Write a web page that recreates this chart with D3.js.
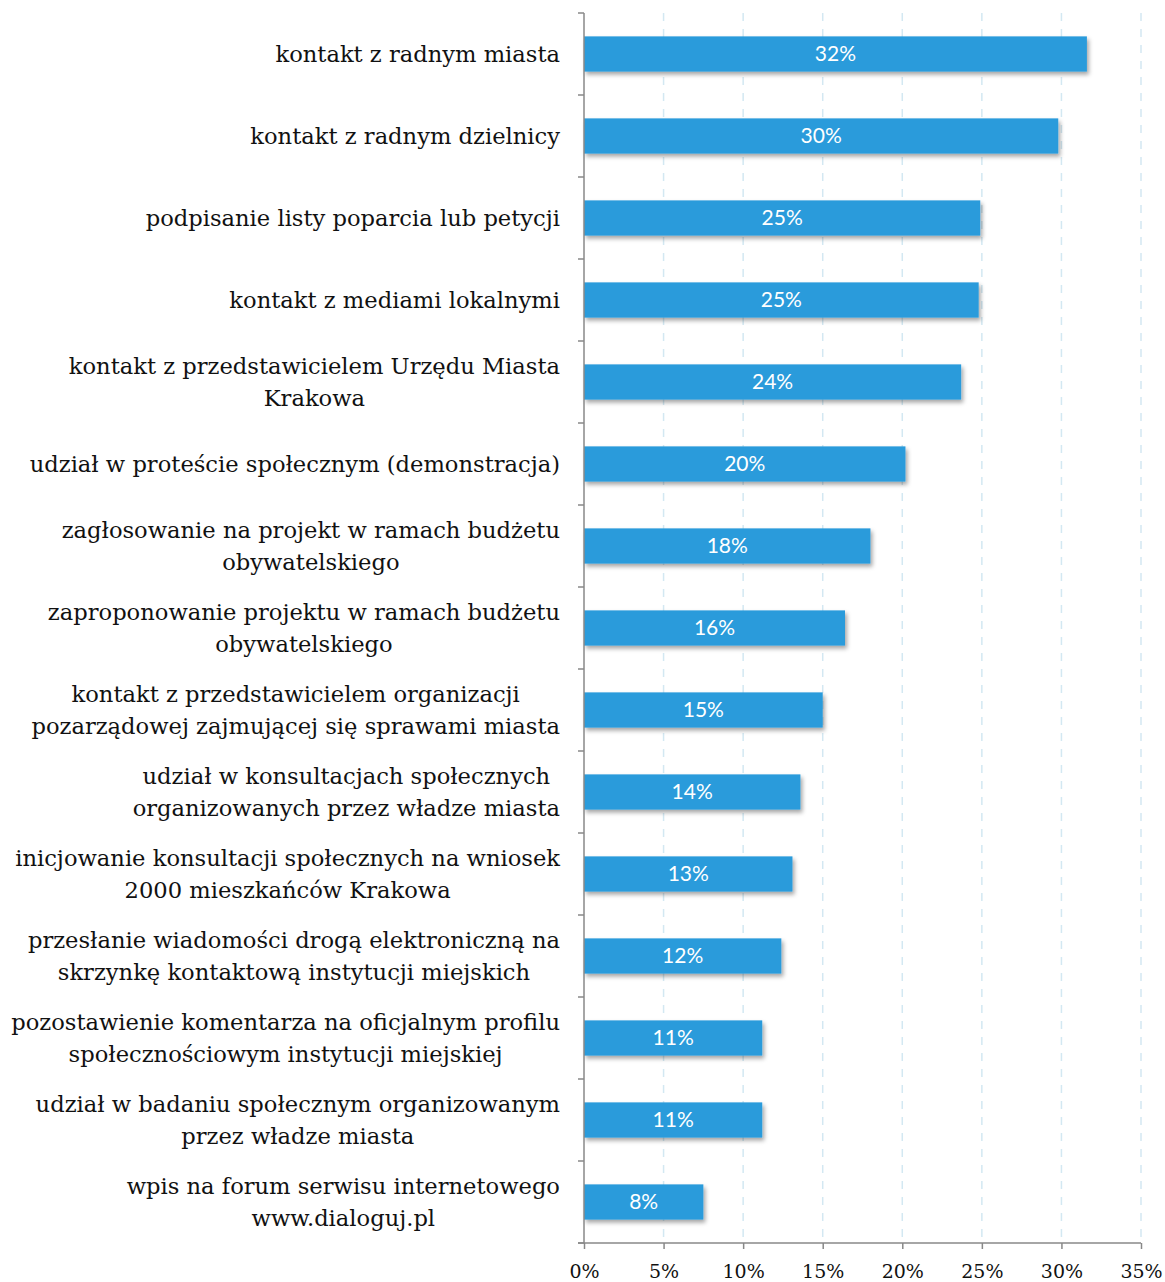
<!DOCTYPE html>
<html><head><meta charset="utf-8">
<script src="https://cdn.jsdelivr.net/npm/d3@7"></script>
<style>body{margin:0;background:#fff}svg{display:block}</style>
</head><body>
<svg id="chart" width="1165" height="1282"></svg>
<script>
const categories = [
  ["kontakt z radnym miasta"],
  ["kontakt z radnym dzielnicy"],
  ["podpisanie listy poparcia lub petycji"],
  ["kontakt z mediami lokalnymi"],
  ["kontakt z przedstawicielem Urzędu Miasta", "Krakowa"],
  ["udział w proteście społecznym (demonstracja)"],
  ["zagłosowanie na projekt w ramach budżetu", "obywatelskiego"],
  ["zaproponowanie projektu w ramach budżetu", "obywatelskiego"],
  ["kontakt z przedstawicielem organizacji", "pozarządowej zajmującej się sprawami miasta"],
  ["udział w konsultacjach społecznych", "organizowanych przez władze miasta"],
  ["inicjowanie konsultacji społecznych na wniosek", "2000 mieszkańców Krakowa"],
  ["przesłanie wiadomości drogą elektroniczną na", "skrzynkę kontaktową instytucji miejskich"],
  ["pozostawienie komentarza na oficjalnym profilu", "społecznościowym instytucji miejskiej"],
  ["udział w badaniu społecznym organizowanym", "przez władze miasta"],
  ["wpis na forum serwisu internetowego", "www.dialoguj.pl"]
];
const values = [31.6, 29.8, 24.9, 24.8, 23.7, 20.2, 18.0, 16.4, 15.0, 13.6, 13.1, 12.4, 11.2, 11.2, 7.5];
const valueLabels = ["32%", "30%", "25%", "25%", "24%", "20%", "18%", "16%", "15%", "14%", "13%", "12%", "11%", "11%", "8%"];
const xTicks = [0, 5, 10, 15, 20, 25, 30, 35];

const svg = d3.select("#chart");
const x = d3.scaleLinear().domain([0, 35]).range([584, 1141]);
const y = d3.scaleBand().domain(d3.range(categories.length)).range([13, 1243]).paddingInner(0.57).paddingOuter(0.285);
const band = d3.scaleBand().domain(d3.range(categories.length)).range([13, 1243]);

const defs = svg.append("defs");
const f = defs.append("filter").attr("id", "sh").attr("x", "-5%").attr("y", "-30%").attr("width", "115%").attr("height", "180%");
f.append("feDropShadow").attr("dx", 2).attr("dy", 3).attr("stdDeviation", 2).attr("flood-color", "#000").attr("flood-opacity", 0.35);

// gridlines
svg.append("g").selectAll("line").data(xTicks.filter(d => d > 0)).join("line")
  .attr("x1", d => x(d)).attr("x2", d => x(d)).attr("y1", 13).attr("y2", 1243)
  .attr("stroke", "#d3e8f2").attr("stroke-width", 1.5).attr("stroke-dasharray", "8,8");

// bars
svg.append("g").selectAll("rect").data(values).join("rect")
  .attr("x", x(0)).attr("y", (d, i) => y(i)).attr("width", d => x(d) - x(0)).attr("height", y.bandwidth())
  .attr("fill", "#2a9bdb").attr("filter", "url(#sh)");

// value labels
svg.append("g").selectAll("text").data(values).join("text")
  .attr("x", d => (x(0) + x(d)) / 2).attr("y", (d, i) => y(i) + y.bandwidth() / 2)
  .attr("dy", "0.35em").attr("text-anchor", "middle")
  .attr("font-family", "Lato, 'Open Sans', sans-serif").attr("font-size", 21).attr("fill", "#fff")
  .text((d, i) => valueLabels[i]);

// y axis
const yAxis = d3.axisLeft(band).tickSize(6).tickFormat("");
const yg = svg.append("g").attr("transform", `translate(${x(0)},0)`).call(yAxis);
yg.selectAll(".tick").remove();
yg.selectAll(".domain").remove();
yg.append("line").attr("x1", 0).attr("x2", 0).attr("y1", 13).attr("y2", 1243).attr("stroke", "#888").attr("stroke-width", 1.5);
yg.selectAll(".bt").data(d3.range(categories.length + 1)).join("line").attr("class", "bt")
  .attr("x1", -6).attr("x2", 0)
  .attr("y1", i => 13 + i * band.step()).attr("y2", i => 13 + i * band.step())
  .attr("stroke", "#888").attr("stroke-width", 1.5);

// x axis
const xAxis = d3.axisBottom(x).tickValues(xTicks).tickSize(6).tickSizeOuter(0).tickFormat(d => d + "%");
const xg = svg.append("g").attr("transform", "translate(0,1243)").call(xAxis);
xg.select(".domain").attr("stroke", "#888").attr("stroke-width", 1.5).attr("d", `M${x(0) - 6},0H${x(35)}`);
xg.selectAll(".tick line").attr("stroke", "#888").attr("stroke-width", 1.5);
xg.selectAll(".tick text").attr("font-family", "'DejaVu Serif', serif").attr("font-size", 19).attr("fill", "#111").attr("dy", "1.35em");

// category labels (centered block, right-aligned at 560)
const lg = svg.append("g").attr("font-family", "'DejaVu Serif', serif").attr("fill", "#111");
let fs = 22;
// fit font size so the longest line matches reference width (~549px)
const probe = lg.append("text").attr("font-size", 100).text("pozostawienie komentarza na oficjalnym profilu");
const w100 = probe.node().getComputedTextLength();
probe.remove();
fs = 100 * 549 / w100;
const lineH = 31.5;
categories.forEach((lines, i) => {
  const cy = band(i) + band.step() / 2;
  const widths = lines.map(t => {
    const p = lg.append("text").attr("font-size", fs).text(t);
    const w = p.node().getComputedTextLength(); p.remove(); return w;
  });
  const maxW = d3.max(widths);
  const cx = 560 - maxW / 2;
  lines.forEach((t, j) => {
    lg.append("text").attr("font-size", fs).attr("text-anchor", "middle")
      .attr("x", cx).attr("y", cy + (j - (lines.length - 1) / 2) * lineH).attr("dy", "0.35em").text(t);
  });
});
</script>
</body></html>
